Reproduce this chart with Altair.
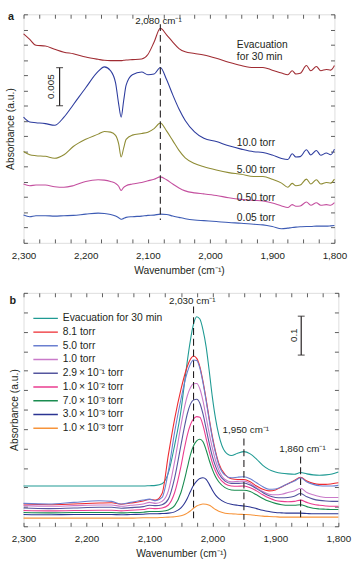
import altair as alt
import pandas as pd

FONT = "Liberation Sans"
INK = "#231f20"

# ---------------- panel a (absorbance x 10^3) ----------------
wn_a = [2300, 2290, 2280, 2265, 2250, 2235, 2220, 2200, 2180, 2170, 2160, 2152, 2147, 2143, 2139,
        2135, 2125, 2110, 2100, 2090, 2080, 2070, 2060, 2050, 2040, 2025, 2010, 1990, 1970, 1950,
        1930, 1915, 1900, 1885, 1875, 1868, 1862, 1855, 1845, 1838, 1829, 1822, 1813, 1806, 1800]
a_evac = [27.43, 26.70, 25.93, 25.85, 25.42, 25.03, 24.82, 24.39, 24.09, 23.96, 23.92, 23.92, 23.92, 23.92, 23.96,
          24.00, 24.05, 24.13, 24.73, 26.36, 28.16, 27.30, 26.36, 25.50, 25.07, 24.86, 24.65, 24.22, 23.70, 23.27,
          23.02, 23.02, 22.67, 22.29, 22.07, 22.59, 22.16, 22.25, 23.27, 22.59, 23.15, 22.59, 22.76, 22.67, 23.27]
a_10 = [16.50, 15.86, 15.77, 15.65, 15.43, 16.50, 18.13, 20.36, 22.50, 23.10, 22.59, 21.00, 18.22, 16.50, 18.65,
        20.70, 22.07, 22.42, 22.07, 22.16, 23.02, 21.43, 19.42, 17.57, 16.07, 14.57, 13.72, 13.29, 12.73, 12.30,
        11.96, 11.87, 11.53, 11.06, 10.93, 11.70, 11.27, 11.32, 12.22, 11.53, 12.13, 11.49, 11.79, 11.57, 12.30]
a_5 = [12.00, 11.57, 11.44, 11.36, 11.10, 11.57, 12.64, 13.59, 14.27, 14.62, 14.53, 14.10, 12.99, 11.27, 12.43,
       13.59, 14.14, 14.36, 14.53, 15.00, 15.73, 14.70, 13.42, 12.13, 11.14, 10.42, 9.99, 9.56, 9.22, 9.00,
       8.70, 8.70, 8.36, 7.84, 7.29, 7.80, 7.50, 7.59, 8.36, 7.72, 8.27, 7.72, 7.93, 7.84, 8.36]
a_050 = [7.72, 7.50, 7.59, 7.59, 7.37, 7.29, 7.50, 8.06, 8.27, 8.23, 8.06, 7.80, 7.42, 6.86, 7.29,
         7.50, 7.72, 7.93, 8.14, 8.36, 8.66, 8.27, 7.72, 7.20, 6.82, 6.56, 6.43, 6.22, 5.92, 5.70,
         5.57, 5.49, 5.23, 4.84, 4.63, 5.02, 4.80, 4.84, 5.36, 4.93, 5.27, 4.93, 5.02, 4.93, 5.27]
a_005 = [3.64, 3.43, 3.56, 3.56, 3.51, 3.56, 3.60, 3.77, 3.90, 3.86, 3.73, 3.51, 3.30, 3.09, 3.21,
         3.34, 3.43, 3.51, 3.60, 3.64, 3.77, 3.73, 3.51, 3.34, 3.17, 3.00, 2.91, 2.79, 2.66, 2.57,
         2.44, 2.36, 2.14, 1.84, 1.93, 2.01, 2.06, 2.10, 2.14, 2.14, 2.19, 2.19, 2.19, 2.23, 2.27]
series_a = ["Evacuation for 30 min", "10.0 torr", "5.00 torr", "0.50 torr", "0.05 torr"]
colors_a = ["#a02c33", "#2d3c9e", "#8f8c35", "#c4509f", "#3d5bb4"]
values_a = [a_evac, a_10, a_5, a_050, a_005]

# ---------------- panel b ----------------
wn_b = [2300, 2260, 2220, 2180, 2160, 2145, 2130, 2110, 2100, 2090, 2080, 2070, 2060, 2050, 2045,
        2040, 2035, 2030, 2025, 2020, 2015, 2010, 2005, 2000, 1995, 1990, 1980, 1970, 1960, 1950,
        1940, 1930, 1920, 1910, 1900, 1890, 1880, 1870, 1860, 1850, 1840, 1830, 1820, 1810, 1800]
b_evac = [0.1035, 0.1035, 0.1035, 0.1035, 0.1035, 0.1035, 0.1035, 0.1035, 0.1043, 0.1052, 0.1094, 0.1372, 0.2087, 0.2970, 0.3602,
          0.4233, 0.4780, 0.5200, 0.5386, 0.5327, 0.5049, 0.4611, 0.3980, 0.3307, 0.2760, 0.2356, 0.1919, 0.1818, 0.1877, 0.1919,
          0.1860, 0.1725, 0.1565, 0.1456, 0.1397, 0.1363, 0.1346, 0.1338, 0.1380, 0.1346, 0.1321, 0.1313, 0.1321, 0.1346, 0.1397]
b_81 = [0.0572, 0.0555, 0.0572, 0.0597, 0.0606, 0.0564, 0.0597, 0.0648, 0.0690, 0.0673, 0.0841, 0.1834, 0.2760, 0.3517, 0.3837,
        0.4106, 0.4291, 0.4376, 0.4317, 0.4106, 0.3728, 0.3265, 0.2760, 0.2297, 0.1919, 0.1624, 0.1330, 0.1220, 0.1203, 0.1203,
        0.1144, 0.1035, 0.0951, 0.0909, 0.0934, 0.1010, 0.1094, 0.1178, 0.1262, 0.1161, 0.1102, 0.1077, 0.1077, 0.1094, 0.1119]
b_50 = [0.0589, 0.0572, 0.0614, 0.0656, 0.0640, 0.0572, 0.0614, 0.0673, 0.0698, 0.0656, 0.0741, 0.1414, 0.2424, 0.3265, 0.3644,
        0.3955, 0.4174, 0.4275, 0.4258, 0.4064, 0.3686, 0.3223, 0.2718, 0.2255, 0.1877, 0.1582, 0.1313, 0.1245, 0.1262, 0.1271,
        0.1220, 0.1119, 0.1018, 0.0951, 0.0959, 0.1018, 0.1094, 0.1161, 0.1245, 0.1136, 0.1077, 0.1043, 0.1035, 0.1035, 0.1052]
b_10 = [0.0530, 0.0513, 0.0530, 0.0547, 0.0547, 0.0513, 0.0539, 0.0572, 0.0614, 0.0589, 0.0640, 0.0909, 0.1666, 0.2592, 0.3013,
        0.3349, 0.3559, 0.3661, 0.3669, 0.3534, 0.3223, 0.2802, 0.2381, 0.2003, 0.1691, 0.1456, 0.1203, 0.1144, 0.1153, 0.1161,
        0.1102, 0.0993, 0.0892, 0.0825, 0.0808, 0.0825, 0.0867, 0.0909, 0.0976, 0.0867, 0.0808, 0.0766, 0.0741, 0.0741, 0.0741]
b_29e1 = [0.0471, 0.0454, 0.0471, 0.0488, 0.0488, 0.0463, 0.0480, 0.0505, 0.0539, 0.0530, 0.0555, 0.0698, 0.1245, 0.2087, 0.2508,
          0.2886, 0.3139, 0.3248, 0.3265, 0.3164, 0.2886, 0.2508, 0.2129, 0.1792, 0.1540, 0.1355, 0.1161, 0.1102, 0.1102, 0.1111,
          0.1060, 0.0968, 0.0867, 0.0783, 0.0741, 0.0732, 0.0741, 0.0774, 0.0842, 0.0757, 0.0698, 0.0665, 0.0648, 0.0640, 0.0640]
b_1e2 = [0.0404, 0.0396, 0.0404, 0.0412, 0.0412, 0.0396, 0.0412, 0.0429, 0.0463, 0.0454, 0.0471, 0.0547, 0.0867, 0.1540, 0.1961,
         0.2339, 0.2609, 0.2760, 0.2819, 0.2802, 0.2592, 0.2255, 0.1919, 0.1624, 0.1414, 0.1262, 0.1094, 0.1035, 0.1027, 0.1035,
         0.0993, 0.0909, 0.0808, 0.0724, 0.0665, 0.0640, 0.0631, 0.0640, 0.0673, 0.0614, 0.0564, 0.0539, 0.0522, 0.0513, 0.0513]
b_7e3 = [0.0353, 0.0345, 0.0353, 0.0353, 0.0353, 0.0345, 0.0353, 0.0362, 0.0379, 0.0379, 0.0387, 0.0421, 0.0530, 0.0867, 0.1161,
         0.1498, 0.1834, 0.2070, 0.2196, 0.2238, 0.2171, 0.1961, 0.1691, 0.1456, 0.1271, 0.1144, 0.0993, 0.0934, 0.0926, 0.0926,
         0.0892, 0.0808, 0.0715, 0.0640, 0.0589, 0.0555, 0.0539, 0.0539, 0.0555, 0.0505, 0.0463, 0.0446, 0.0438, 0.0429, 0.0429]
b_3e3 = [0.0303, 0.0295, 0.0303, 0.0303, 0.0303, 0.0295, 0.0303, 0.0311, 0.0320, 0.0320, 0.0328, 0.0337, 0.0370, 0.0471, 0.0572,
         0.0715, 0.0892, 0.1052, 0.1161, 0.1229, 0.1245, 0.1203, 0.1077, 0.0926, 0.0799, 0.0715, 0.0614, 0.0564, 0.0539, 0.0522,
         0.0496, 0.0454, 0.0412, 0.0379, 0.0353, 0.0345, 0.0337, 0.0337, 0.0337, 0.0328, 0.0320, 0.0320, 0.0320, 0.0320, 0.0320]
b_1e3 = [0.0210, 0.0210, 0.0210, 0.0210, 0.0210, 0.0210, 0.0210, 0.0219, 0.0219, 0.0219, 0.0227, 0.0236, 0.0244, 0.0269, 0.0295,
         0.0337, 0.0396, 0.0463, 0.0522, 0.0555, 0.0572, 0.0564, 0.0539, 0.0488, 0.0429, 0.0387, 0.0337, 0.0320, 0.0311, 0.0303,
         0.0295, 0.0278, 0.0261, 0.0252, 0.0244, 0.0236, 0.0236, 0.0236, 0.0236, 0.0236, 0.0236, 0.0236, 0.0236, 0.0236, 0.0236]
TH = "\u2009\u00d7\u2009"
series_b = ["Evacuation for 30 min", "8.1 torr", "5.0 torr", "1.0 torr",
            "2.9" + TH + "10\u207b\u00b9 torr", "1.0" + TH + "10\u207b\u00b2 torr",
            "7.0" + TH + "10\u207b\u00b3 torr", "3.0" + TH + "10\u207b\u00b3 torr",
            "1.0" + TH + "10\u207b\u00b3 torr"]
colors_b = ["#1f9a93", "#ee2a2f", "#6a7fd0", "#c97ac9", "#55569e", "#ea3c8f", "#1a8c50", "#2b3492", "#f7943a"]
values_b = [b_evac, b_81, b_50, b_10, b_29e1, b_1e2, b_7e3, b_3e3, b_1e3]

# tick values
x_labels = [2300, 2200, 2100, 2000, 1900, 1800]
x_minor = [2300, 2275, 2250, 2225, 2200, 2175, 2150, 2125, 2100, 2075, 2050, 2025, 2000,
           1975, 1950, 1925, 1900, 1875, 1850, 1825, 1800]
y_ticks_a = [0, 2, 4, 6, 8, 10, 12, 14, 16, 18, 20, 22, 24, 26, 28, 30]
y_ticks_b = [0, 0.05, 0.1, 0.15, 0.2, 0.25, 0.3, 0.35, 0.4, 0.45, 0.5, 0.55, 0.6]

# annotations
a_dash = pd.DataFrame({"wn": [2080], "y1": [28.7], "y2": [3.0]})
a_center = pd.DataFrame({"wn": [2083], "y": [29.1], "label": ["2,080 cm\u207b\u00b9"]})
a_left = pd.DataFrame({"wn": [1957] * 6, "y": [26.0, 24.4, 13.16, 9.56, 5.92, 3.21],
                       "label": ["Evacuation", "for 30 min", "10.0 torr", "5.00 torr", "0.50 torr", "0.05 torr"]})
a_bar = pd.DataFrame({"wn": [2242], "y1": [18.0], "y2": [23.0]})
a_caps = pd.DataFrame({"wn": [2242, 2242], "y": [18.0, 23.0]})
a_barlab = pd.DataFrame({"wn": [2255], "y": [20.5], "label": ["0.005"]})
a_letter = pd.DataFrame({"wn": [2320], "y": [29.6], "label": ["a"]})

b_dash = pd.DataFrame({"wn": [2030, 1950, 1860], "y1": [0.565, 0.2255, 0.1792], "y2": [0.019, 0.0168, 0.0168]})
b_center = pd.DataFrame({"wn": [2032, 1947, 1857], "y": [0.579, 0.2466, 0.1978],
                         "label": ["2,030 cm\u207b\u00b9", "1,950 cm\u207b\u00b9", "1,860 cm\u207b\u00b9"]})
b_bar = pd.DataFrame({"wn": [1859], "y1": [0.44], "y2": [0.54]})
b_caps = pd.DataFrame({"wn": [1859, 1859], "y": [0.44, 0.54]})
b_barlab = pd.DataFrame({"wn": [1871], "y": [0.491], "label": ["0.1"]})
b_letter = pd.DataFrame({"wn": [2317], "y": [0.58], "label": ["b"]})


def long_df(wn, series, values):
    rows = []
    for s, vals in zip(series, values):
        for w, v in zip(wn, vals):
            rows.append({"wn": w, "A": v, "series": s})
    return pd.DataFrame(rows)


def tick_axis(orient, offset, vals):
    return alt.Axis(orient=orient, offset=offset, values=vals, labels=False, domain=False,
                    ticks=True, tickSize=4, tickWidth=0.8, tickColor="#333", grid=False, title=None)


def panel(df, series, colors, W, H, ydom, yticks, legend, dash, center, left, bar, caps, barlab,
          letter, title_pad):
    xs = alt.Scale(domain=[1800, 2300], reverse=True, nice=False, zero=False)
    ys = alt.Scale(domain=ydom, nice=False, zero=False)
    ax_bottom = alt.Axis(orient="bottom", values=x_labels, format=",d", ticks=False, tickSize=0,
                         domain=False, grid=False, labelPadding=8, labelFontSize=10,
                         labelFont=FONT, labelColor=INK, labelFlush=False, labelOverlap=False,
                         title="Wavenumber (cm\u207b\u00b9)", titleFont=FONT, titleFontSize=10.5,
                         titleFontWeight="normal", titleColor=INK, titlePadding=5)
    ax_left = alt.Axis(orient="left", labels=False, ticks=False, domain=False, grid=False,
                       title="Absorbance (a.u.)", titleFont=FONT, titleFontSize=10.5,
                       titleFontWeight="normal", titleColor=INK, titlePadding=title_pad)
    lines = alt.Chart(df).mark_line(strokeWidth=1.1, interpolate="monotone").encode(
        x=alt.X("wn:Q", scale=xs, axis=ax_bottom),
        y=alt.Y("A:Q", scale=ys, axis=ax_left),
        color=alt.Color("series:N", scale=alt.Scale(domain=series, range=colors), legend=legend),
    )
    dashes = alt.Chart(dash).mark_rule(strokeDash=[7, 4], strokeWidth=1.1, color=INK).encode(
        x=alt.X("wn:Q", scale=xs, axis=tick_axis("top", -H, x_minor)),
        y=alt.Y("y1:Q", scale=ys, axis=tick_axis("right", -W, yticks)),
        y2="y2:Q",
    )
    ctext = alt.Chart(center).mark_text(font=FONT, fontSize=10, color=INK).encode(
        x=alt.X("wn:Q", scale=xs, axis=tick_axis("bottom", -H, x_minor)),
        y=alt.Y("y:Q", scale=ys, axis=tick_axis("left", -W, yticks)),
        text="label:N",
    )
    layers = [lines, dashes, ctext]
    if left is not None:
        layers.append(alt.Chart(left).mark_text(font=FONT, fontSize=10.5, color=INK, align="left").encode(
            x=alt.X("wn:Q", scale=xs, axis=None), y=alt.Y("y:Q", scale=ys, axis=None), text="label:N"))
    layers.append(alt.Chart(bar).mark_rule(strokeWidth=1.2, color=INK).encode(
        x=alt.X("wn:Q", scale=xs, axis=None), y=alt.Y("y1:Q", scale=ys, axis=None), y2="y2:Q"))
    layers.append(alt.Chart(caps).mark_tick(orient="horizontal", size=7, thickness=1.2, color=INK).encode(
        x=alt.X("wn:Q", scale=xs, axis=None), y=alt.Y("y:Q", scale=ys, axis=None)))
    layers.append(alt.Chart(barlab).mark_text(font=FONT, fontSize=10, color=INK, angle=270).encode(
        x=alt.X("wn:Q", scale=xs, axis=None), y=alt.Y("y:Q", scale=ys, axis=None), text="label:N"))
    layers.append(alt.Chart(letter).mark_text(font=FONT, fontSize=11, fontWeight="bold", color=INK).encode(
        x=alt.X("wn:Q", scale=xs, axis=None), y=alt.Y("y:Q", scale=ys, axis=None), text="label:N"))
    return alt.layer(*layers).resolve_axis(x="independent", y="independent").properties(width=W, height=H)


legend_b = alt.Legend(orient="none", legendX=9, legendY=20, direction="vertical", title=None,
                      symbolType="stroke", symbolSize=625, symbolStrokeWidth=1.4, clipHeight=12,
                      rowPadding=2, labelFontSize=10.5, labelFont=FONT, labelColor=INK, labelOffset=4,
                      padding=0, labelLimit=300)

pa = panel(long_df(wn_a, series_a, values_a), series_a, colors_a, 317, 233, [0, 30], y_ticks_a, None,
           a_dash, a_center, a_left, a_bar, a_caps, a_barlab, a_letter, 8)
pb = panel(long_df(wn_b, series_b, values_b), series_b, colors_b, 321, 238, [0, 0.6], y_ticks_b, legend_b,
           b_dash, b_center, None, b_bar, b_caps, b_barlab, b_letter, 4)

chart = alt.vconcat(pa, pb, spacing=16).resolve_scale(
    x="independent", y="independent", color="independent"
).properties(
    padding={"left": 5, "top": 5, "right": 5, "bottom": 5}
).configure_view(stroke="#333", strokeWidth=0.9).configure(font=FONT)

chart.save("out.html", embed_options={"renderer": "svg", "actions": False})
